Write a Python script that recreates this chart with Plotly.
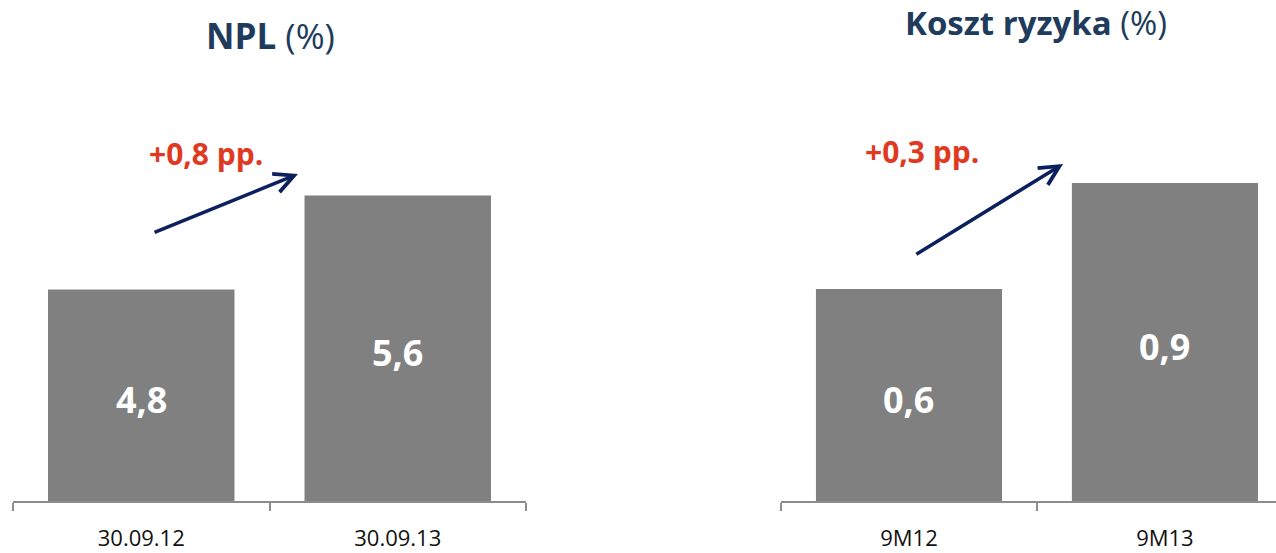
import plotly.graph_objects as go

# NPL ratio (%) at period end
npl_dates = ["30.09.12", "30.09.13"]
npl_values = [4.8, 5.6]
npl_change = "+0,8 pp."

# Cost of risk (%) for nine months
cor_periods = ["9M12", "9M13"]
cor_values = [0.6, 0.9]
cor_change = "+0,3 pp."

# visible floor of each value axis
npl_floor = 3.0
cor_floor = 0.0

W, H = 1276, 553
FONT = "Open Sans"
BAR = "#808080"
AXIS = "#8c8c8c"
TITLE = "#213b5c"
RED = "#e0391f"
NAVY = "#0c1f5e"


def fmt(v):
    return f"{v:.1f}".replace(".", ",")


fig = go.Figure()

common_bar = dict(
    marker=dict(color=BAR, line=dict(width=0)),
    hoverinfo="skip",
    showlegend=False,
)

fig.add_trace(go.Bar(x=npl_dates, y=npl_values, xaxis="x", yaxis="y", **common_bar))
fig.add_trace(go.Bar(x=cor_periods, y=cor_values, xaxis="x2", yaxis="y2", **common_bar))

xaxis_style = dict(
    type="category",
    showline=True,
    linecolor=AXIS,
    linewidth=1.5,
    ticks="outside",
    tickson="boundaries",
    ticklen=8,
    tickwidth=1.5,
    tickcolor=AXIS,
    showgrid=False,
    zeroline=False,
    automargin=False,
    tickfont=dict(family=FONT, size=22, color="#111111"),
    ticklabelstandoff=17,
    fixedrange=True,
)

fig.update_layout(
    width=W,
    height=H,
    margin=dict(l=0, r=0, t=0, b=52),
    paper_bgcolor="white",
    plot_bgcolor="white",
    bargap=0.273,
    xaxis=dict(domain=[13 / W, 526 / W], range=[-0.5, 1.5], anchor="y", **xaxis_style),
    yaxis=dict(domain=[0, 1], range=[npl_floor, 7.264], visible=False, anchor="x"),
    xaxis2=dict(domain=[781 / W, 1], range=[-0.5, 1.434], anchor="y2", **xaxis_style),
    yaxis2=dict(domain=[0, 1], range=[cor_floor, 1.418], visible=False, anchor="x2"),
)

annotations = [
    # panel titles
    dict(text="<b>NPL</b> (%)", xref="paper", yref="paper", x=270 / W, y=0.930,
         showarrow=False, font=dict(family=FONT, size=35, color=TITLE),
         xanchor="center", yanchor="middle"),
    dict(text="<b>Koszt ryzyka</b> (%)", xref="paper", yref="paper", x=1036 / W, y=0.956,
         showarrow=False, font=dict(family=FONT, size=33, color=TITLE),
         xanchor="center", yanchor="middle"),
    # change labels
    dict(text=f"<b>{npl_change}</b>", xref="x", yref="y", x=0.252, y=5.96,
         showarrow=False, font=dict(family=FONT, size=30, color=RED),
         xanchor="center", yanchor="middle"),
    dict(text=f"<b>{cor_change}</b>", xref="x2", yref="y2", x=0.051, y=0.99,
         showarrow=False, font=dict(family=FONT, size=30, color=RED),
         xanchor="center", yanchor="middle"),
    # trend arrows
    dict(text="", xref="x", yref="y", x=0.611, y=5.783,
         axref="x", ayref="y", ax=0.046, ay=5.281,
         showarrow=True, arrowhead=5, arrowsize=1.1, arrowwidth=3.5, arrowcolor=NAVY),
    dict(text="", xref="x2", yref="y2", x=0.602, y=0.954,
         axref="x2", ayref="y2", ax=0.023, ay=0.696,
         showarrow=True, arrowhead=5, arrowsize=1.1, arrowwidth=3.5, arrowcolor=NAVY),
]

# value labels centred in the visible part of each bar
label_font = dict(family=FONT, size=36, color="white")
for xs, vals, floor, xr, yr in [
    (npl_dates, npl_values, npl_floor, "x", "y"),
    (cor_periods, cor_values, cor_floor, "x2", "y2"),
]:
    for i, v in enumerate(vals):
        annotations.append(dict(
            text=f"<b>{fmt(v)}</b>", xref=xr, yref=yr, x=i, y=(floor + v) / 2,
            yshift=-4, showarrow=False, font=label_font,
            xanchor="center", yanchor="middle",
        ))

fig.update_layout(annotations=annotations)

fig.write_html("out.html", config={"displayModeBar": False})
